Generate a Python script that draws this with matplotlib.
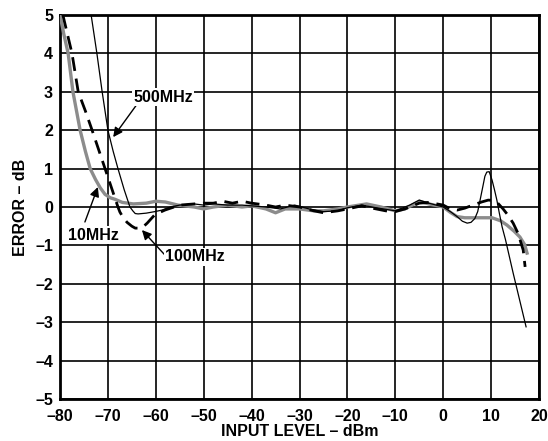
import matplotlib
matplotlib.use('Agg')
import matplotlib.pyplot as plt

plt.rcParams['font.family'] = ['Liberation Sans', 'DejaVu Sans']
plt.rcParams['font.weight'] = 'bold'

# 10MHz (trait gris épais)
x_10 = [-80, -79.2, -78.3, -77.3, -75.8, -74.7, -73.7, -72.6, -71.6, -70.6, -69.5, -68.5, -67, -64.7,
        -62, -60, -58, -55.4, -52, -50, -48, -45, -42, -40, -37, -35, -33, -30, -27, -25, -22,
        -20, -16, -13, -10, -8, -5, -3, 0, 1.5, 2.9, 4.5, 6.2, 8, 10.2, 12, 13.3, 14.8, 16, 17, 17.5]
y_10 = [5.0, 4.5, 4.0, 3.0, 2.0, 1.45, 1.0, 0.72, 0.5, 0.33, 0.24, 0.2, 0.12, 0.08,
        0.1, 0.15, 0.13, 0.05, 0.0, -0.05, 0.0, 0.05, 0.0, 0.03, -0.05, -0.15, -0.05, -0.05, -0.1, -0.1, -0.05,
        0.0, 0.08, 0.0, -0.1, -0.05, 0.15, 0.08, 0.0, -0.14, -0.25, -0.28, -0.28, -0.28, -0.28, -0.36, -0.47,
        -0.63, -0.78, -0.98, -1.2]

# 100MHz (trait noir discontinu)
x_100 = [-79.4, -77.5, -76.2, -74.7, -73.3, -70.6, -67.9, -67.5, -66.8, -66, -65, -64.3, -63.3,
         -62.5, -61.8, -60.2, -58.1, -55, -52, -50, -48, -46, -44, -42, -40, -37, -35, -33, -30, -27,
         -25, -22, -20, -17, -14, -12, -10, -8, -5, -3, 0, 1.5, 2.9, 4.5, 6.2, 8, 9.4, 10.5, 11.4, 12.5,
         13.5, 14.6, 15.6, 16.7, 17.1]
y_100 = [5.0, 4.0, 3.0, 2.5, 2.0, 1.0, 0.0, -0.13, -0.28, -0.4, -0.5, -0.55, -0.55,
         -0.5, -0.42, -0.2, -0.08, 0.05, 0.08, 0.1, 0.1, 0.15, 0.1, 0.15, 0.1, 0.05, 0.0, 0.05, 0.0, -0.1,
         -0.15, -0.1, -0.05, 0.03, -0.05, -0.1, -0.12, -0.05, 0.1, 0.12, 0.05, -0.05, -0.08, -0.03, 0.05,
         0.13, 0.18, 0.17, 0.1, -0.05, -0.21, -0.42, -0.68, -1.12, -1.56]

# 500MHz (trait noir fin)
x_500 = [-73.5, -72.3, -71.2, -70, -68.9, -67.9, -66.6, -65.4, -64.8, -64.3, -63.7, -62, -60.2, -58.7,
         -57, -55, -52, -50, -48, -45, -42, -40, -37, -34, -31, -28, -25, -22, -20, -17, -14, -10, -7,
         -5, -3, 0, 1.5, 2.9, 4, 5, 5.8, 6.6, 7.2, 7.7, 8.3, 8.7, 9.1, 9.6, 10.2, 10.7, 11.2, 11.7, 12.3,
         13, 14.6, 17.3]
y_500 = [5.0, 4.0, 3.0, 2.0, 1.45, 1.0, 0.45, 0.0, -0.1, -0.17, -0.18, -0.16, -0.12, -0.08,
         0.0, 0.05, 0.08, 0.05, 0.08, 0.05, 0.05, 0.03, 0.0, -0.05, 0.05, -0.05, -0.12, -0.1, -0.02, 0.05,
         -0.02, -0.1, 0.05, 0.18, 0.1, 0.0, -0.12, -0.25, -0.37, -0.42, -0.4, -0.3, -0.12, 0.18, 0.55, 0.8,
         0.91, 0.92, 0.7, 0.45, 0.18, -0.15, -0.52, -0.85, -1.72, -3.12]

x_ticks = list(range(-80, 21, 10))
y_ticks = list(range(-5, 6))

fig = plt.figure(figsize=(5.48, 4.41), dpi=100)
fig.set_facecolor('w')
ax = fig.add_axes([0.1095, 0.0952, 0.8741, 0.8708])

ax.plot(x_10, y_10, color='#8c8c8c', linewidth=2.4, zorder=3)
ax.plot(x_100, y_100, color='k', linewidth=2.0, dashes=(5, 2.8), zorder=4)
ax.plot(x_500, y_500, color='k', linewidth=0.9, zorder=5)

ax.set_xlim(-80, 20)
ax.set_ylim(-5, 5)
ax.set_xticks(x_ticks)
ax.set_yticks(y_ticks)
ax.set_xticklabels(['\u2013%d' % -v if v < 0 else '%d' % v for v in x_ticks])
ax.set_yticklabels(['\u2013%d' % -v if v < 0 else '%d' % v for v in y_ticks])
ax.tick_params(length=0, labelsize=11.5, pad=5)
ax.tick_params(axis='x', pad=7)
ax.grid(True, color='k', linewidth=1.2)
ax.set_axisbelow(True)
for s in ax.spines.values():
    s.set_linewidth(2.0)

ax.set_xlabel('INPUT LEVEL \u2013 dBm', fontsize=11.5, fontweight='bold', labelpad=0)
ax.set_ylabel('ERROR \u2013 dB', fontsize=11.5, fontweight='bold', labelpad=5)

# Rótulos con flechas
flecha = dict(arrowstyle='-|>', color='k', linewidth=1.0, mutation_scale=14,
              shrinkA=0, shrinkB=0)
caja = dict(facecolor='w', edgecolor='none', pad=1)
ax.annotate('', xy=(-68.9, 1.82), xytext=(-63.9, 2.68), arrowprops=flecha, zorder=6)
ax.text(-58.5, 2.86, '500MHz', fontsize=11.5, ha='center', va='center', bbox=caja, zorder=6)
ax.annotate('', xy=(-72.1, 0.52), xytext=(-74.8, -0.39), arrowprops=flecha, zorder=6)
ax.text(-73.1, -0.73, '10MHz', fontsize=11.5, ha='center', va='center', bbox=caja, zorder=6)
ax.annotate('', xy=(-62.9, -0.6), xytext=(-58.1, -1.25), arrowprops=flecha, zorder=6)
ax.text(-51.8, -1.3, '100MHz', fontsize=11.5, ha='center', va='center', bbox=caja, zorder=6)

fig.savefig('out.png', dpi=100)
